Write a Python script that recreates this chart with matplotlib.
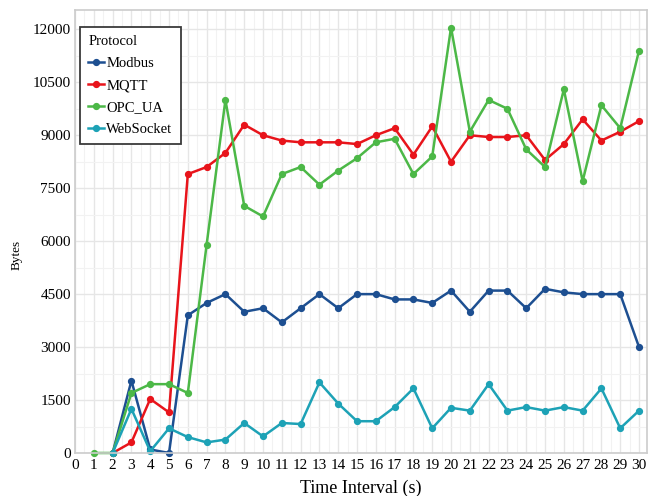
import matplotlib
matplotlib.use("Agg")
import matplotlib.pyplot as plt
from matplotlib.ticker import MultipleLocator

plt.rcParams['font.family'] = ['Liberation Serif', 'DejaVu Serif']

# Bytes transferred per time interval
t_opc = list(range(1, 31))
t_other = list(range(2, 31))

modbus = [0, 2050, 100, 0, 3900, 4250, 4500, 4000, 4100, 3700, 4100, 4500, 4100,
          4500, 4500, 4350, 4350, 4250, 4600, 4000, 4600, 4600, 4100, 4650, 4550,
          4500, 4500, 4500, 3000]
mqtt = [0, 300, 1530, 1150, 7900, 8100, 8500, 9300, 9000, 8850, 8800, 8800, 8800,
        8750, 9000, 9200, 8450, 9250, 8250, 9000, 8950, 8950, 9000, 8300, 8750,
        9450, 8850, 9100, 9400]
opc_ua = [0, 0, 1700, 1950, 1950, 1700, 5900, 10000, 7000, 6700, 7900, 8100, 7600,
          8000, 8350, 8800, 8900, 7900, 8400, 12050, 9100, 10000, 9750, 8600, 8100,
          10300, 7700, 9850, 9200, 11400]
websocket = [0, 1250, 50, 700, 450, 300, 380, 850, 470, 850, 820, 2000, 1400, 900,
             900, 1300, 1830, 700, 1280, 1200, 1950, 1200, 1300, 1200, 1300, 1200,
             1830, 700, 1200]

series = [
    ("Modbus", t_other, modbus, "#1d4f91"),
    ("MQTT", t_other, mqtt, "#e8141b"),
    ("OPC_UA", t_opc, opc_ua, "#4cb847"),
    ("WebSocket", t_other, websocket, "#1da2b6"),
]

fig = plt.figure(figsize=(6.61, 4.96), dpi=100)
ax = fig.add_axes([0.1135, 0.0867, 0.8655, 0.8933])

for name, t, vals, col in series:
    ax.plot(t, vals, color=col, lw=1.8, marker="o", ms=4.2, label=name,
            clip_on=False)

ax.set_xlim(0, 30.43)
ax.set_ylim(0, 12550)
ax.xaxis.set_major_locator(MultipleLocator(1))
ax.xaxis.set_minor_locator(MultipleLocator(0.5))
ax.yaxis.set_major_locator(MultipleLocator(1500))
ax.yaxis.set_minor_locator(MultipleLocator(750))
ax.grid(which="major", color="#e6e6e6", lw=1.0)
ax.grid(which="minor", color="#f2f2f2", lw=0.8)
ax.set_axisbelow(True)
ax.tick_params(which="both", length=0, labelsize=11, pad=3)
ax.tick_params(axis="x", pad=4)

for s in ax.spines.values():
    s.set_color("#cccccc")
    s.set_linewidth(1.2)

ax.set_xlabel("Time Interval (s)", fontsize=13, labelpad=6)
ax.set_ylabel("Bytes", fontsize=9.5)
ax.yaxis.set_label_coords(-0.092, 0.447)

leg = ax.legend(title="Protocol", loc="upper left", bbox_to_anchor=(0.009, 0.961),
                fontsize=10.5, title_fontsize=10.5, frameon=True, fancybox=False,
                handlelength=1.1, handletextpad=0.15, labelspacing=0.6,
                borderpad=0.55, borderaxespad=0)
leg.get_frame().set_edgecolor("#3a3a3a")
leg.get_frame().set_linewidth(1.3)
leg.get_frame().set_alpha(1)
leg._legend_box.align = "left"

fig.savefig("out.png", dpi=100)
